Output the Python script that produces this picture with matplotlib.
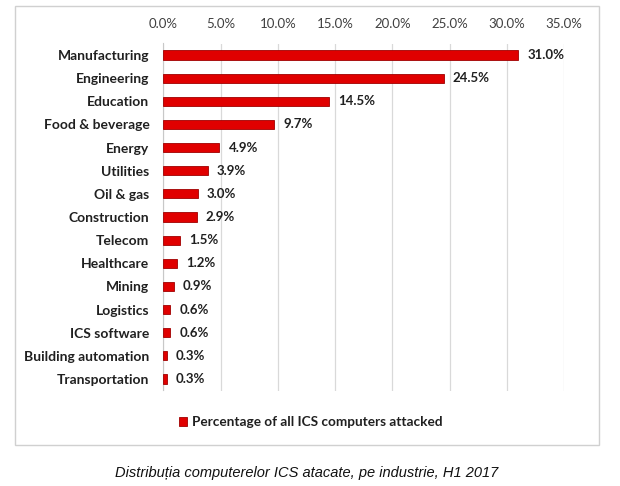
import matplotlib
matplotlib.use("Agg")
import matplotlib.pyplot as plt
from matplotlib.patches import Rectangle

categories = ["Manufacturing", "Engineering", "Education", "Food & beverage", "Energy",
              "Utilities", "Oil & gas", "Construction", "Telecom", "Healthcare",
              "Mining", "Logistics", "ICS software", "Building automation", "Transportation"]
values = [31.0, 24.5, 14.5, 9.7, 4.9, 3.9, 3.0, 2.9, 1.5, 1.2, 0.9, 0.6, 0.6, 0.3, 0.3]
xticks = [0, 5, 10, 15, 20, 25, 30, 35]
series_name = "Percentage of all ICS computers attacked"
caption = "Distribuția computerelor ICS atacate, pe industrie, H1 2017"

plt.rcParams['font.family'] = ['Lato', 'DejaVu Sans']

W, H = 620, 486
fig = plt.figure(figsize=(6.2, 4.86), dpi=100)
fig.patch.set_facecolor('white')

# outer frame of chart
fig.patches.append(Rectangle((15/W, 1-445/H), (599-15)/W, (445-6)/H,
                             transform=fig.transFigure, fill=False,
                             edgecolor='#d0d0d0', linewidth=1.0))

ax = fig.add_axes([163.3/W, 1-390.5/H, (564-163.3)/W, (390.5-43.5)/H])
y = list(range(len(categories)))
bars = ax.barh(y, values, height=0.4, color='#e00000', edgecolor='#a00000',
               linewidth=0.6, label=series_name, zorder=3)
ax.set_ylim(len(categories)-0.5, -0.5)
ax.set_xlim(0, 35)
ax.set_xticks(xticks)
ax.set_xticklabels([f"{t:.1f}%" for t in xticks], fontsize=9.5, color='#404040')
ax.xaxis.tick_top()
ax.tick_params(axis='x', length=0, pad=9.5)
ax.tick_params(axis='y', length=0, pad=10)
ax.set_yticks(y)
ax.set_yticklabels(categories, fontsize=10, fontweight='bold', color='#202020')
ax.grid(axis='x', color='#d9d9d9', linewidth=0.9, zorder=0)
for s in ['top', 'right', 'bottom']:
    ax.spines[s].set_visible(False)
ax.spines['left'].set_color('#c8c8c8')

for yi, v in zip(y, values):
    ax.annotate(f"{v:.1f}%", xy=(v, yi), xytext=(6.5, 0), textcoords='offset points',
                va='center', ha='left', fontsize=9.5, fontweight='bold', color='#202020')

leg = fig.legend(handles=[bars], labels=[series_name], loc='center',
                 bbox_to_anchor=(311/W, 1-422/H), frameon=False,
                 prop={'size': 9.8, 'weight': 'bold'}, handlelength=0.6,
                 handleheight=0.6, handletextpad=0.35)
for t in leg.get_texts():
    t.set_color('#202020')

fig.text(306.5/W, 1-472.5/H, caption, ha='center', va='center', fontsize=10.5,
         style='italic', family=['Liberation Sans', 'DejaVu Sans'], color='#111111')

fig.savefig("out.png", dpi=100, facecolor='white')
